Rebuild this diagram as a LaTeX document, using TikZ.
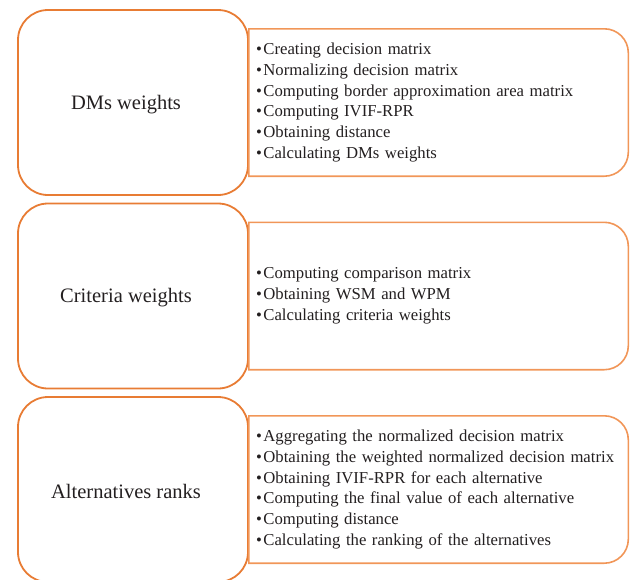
\documentclass[tikz,border=0pt]{standalone}
\usepackage{fontspec}
\setmainfont{Liberation Serif}
\usetikzlibrary{positioning}

\definecolor{boxorange}{RGB}{232,124,52}
\definecolor{lightorange}{RGB}{241,150,88}
\definecolor{txt}{RGB}{35,31,32}

% frame of a list box: square on the left, round on the right
\newcommand{\listframe}[1]{%
  \draw[list frame] (#1.south west) -- (#1.north west)
    -- ([xshift=-24pt]#1.north east) arc[start angle=90, end angle=0, radius=24pt]
    -- ([yshift=24pt]#1.south east) arc[start angle=0, end angle=-90, radius=24pt]
    -- cycle;}

\begin{document}
\begin{tikzpicture}[x=1pt,y=1pt,node distance=193.5pt,text=txt,
    main node/.style={draw=boxorange,line width=1.8pt,rounded corners=30pt,fill=white,
        minimum width=230pt,minimum height=185pt},
    main label/.style={font=\fontsize{20.5}{24}\selectfont,xshift=-7pt,yshift=-2pt},
    list node/.style={minimum width=379pt,minimum height=147pt,inner xsep=7pt,
        text width=365pt,align=left,font=\fontsize{16.7}{20.8}\selectfont},
    list frame/.style={draw=lightorange,line width=1.6pt}]

            \useasboundingbox (0,0) rectangle (644,-579);

            \node[main node] (1) at (133,-102.5) [label={[main label]center:DMs weights}]{};
            \node[main node] (2) [below of = 1, label={[main label]center:Criteria weights}]{};
            \node[main node] (3) [below of = 2, label={[main label]center:Alternatives ranks}]{};

            \node[list node] (4) [right=0pt of 1]{%
                •\hspace{1.5pt}Creating decision matrix\\
                •\hspace{1.5pt}Normalizing decision matrix\\
                •\hspace{1.5pt}Computing border approximation area matrix\\
                •\hspace{1.5pt}Computing IVIF-RPR\\
                •\hspace{1.5pt}Obtaining distance\\
                •\hspace{1.5pt}Calculating DMs weights};
            \node[list node] (5) [right=0pt of 2]{%
                •\hspace{1.5pt}Computing comparison matrix\\
                •\hspace{1.5pt}Obtaining WSM and WPM\\
                •\hspace{1.5pt}Calculating criteria weights};
            \node[list node] (6) [right=0pt of 3]{%
                •\hspace{1.5pt}Aggregating the normalized decision matrix\\
                •\hspace{1.5pt}Obtaining the weighted normalized decision matrix\\
                •\hspace{1.5pt}Obtaining IVIF-RPR for each alternative\\
                •\hspace{1.5pt}Computing the final value of each alternative\\
                •\hspace{1.5pt}Computing distance\\
                •\hspace{1.5pt}Calculating the ranking of the alternatives};

            \listframe{4}
            \listframe{5}
            \listframe{6}

            ;
        \end{tikzpicture}
\end{document}
